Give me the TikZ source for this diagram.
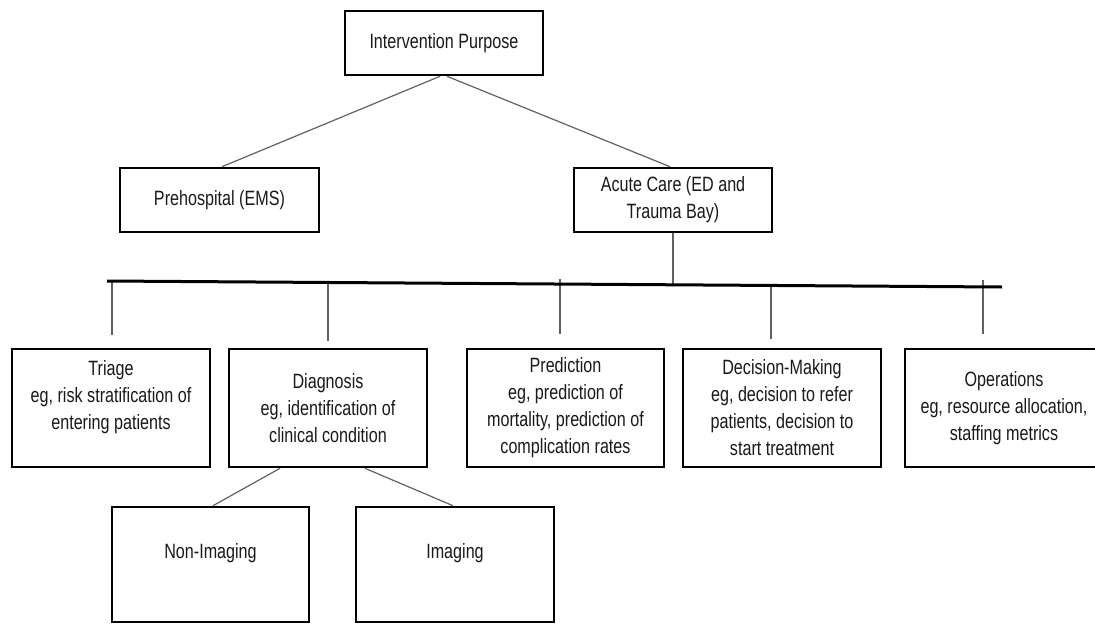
\documentclass[tikz,border=0pt]{standalone}
\usepackage{fontspec}
\setmainfont[FakeStretch=0.78]{Liberation Sans}
\begin{document}
\begin{tikzpicture}[x=1pt,y=-1pt,
  box/.style={draw=black, line width=2.6pt, align=center, inner sep=0pt,
    font=\fontsize{20.7}{27}\selectfont, text=black!90},
  link/.style={draw=black!62, line width=1.2pt},
  bar/.style={draw=black, line width=3pt}]
\useasboundingbox (0,0) rectangle (1095,624);
% level 1 and 2
\node[box, minimum width=198pt, minimum height=64pt] (top) at (444,43) {Intervention Purpose};
\node[box, minimum width=199pt, minimum height=64pt] (pre) at (219.5,200) {Prehospital (EMS)};
\node[box, minimum width=198pt, minimum height=64pt] (acute) at (673,200) {Acute Care (ED and\\Trauma Bay)};
% level 3
\node[box, minimum width=198pt, minimum height=118pt] (triage) at (111,408) {Triage\\eg, risk stratification of\\entering patients\\\mbox{}};
\node[box, minimum width=198pt, minimum height=118pt] (diag) at (328,408) {Diagnosis\\eg, identification of\\clinical condition};
\node[box, minimum width=197pt, minimum height=118pt] (pred) at (565.5,408) {Prediction\\eg, prediction of\\mortality, prediction of\\complication rates};
\node[box, minimum width=198pt, minimum height=118pt] (dec) at (782,408) {Decision-Making\\eg, decision to refer\\patients, decision to\\start treatment};
\node[box, minimum width=198pt, minimum height=118pt] (ops) at (1004,408) {Operations\\eg, resource allocation,\\staffing metrics};
% level 4
\node[box, minimum width=197pt, minimum height=115pt] (nonimg) at (210.5,564.5) {Non-Imaging\\\mbox{}};
\node[box, minimum width=198pt, minimum height=115pt] (img) at (455,564.5) {Imaging\\\mbox{}};
% bar and junction coordinates
\coordinate (barL) at (107,281);
\coordinate (barR) at (1002,287);
\coordinate (aj) at (673,285);
\coordinate (t1) at (112,281); \coordinate (b1) at (112,335);
\coordinate (t2) at (328,282); \coordinate (b2) at (328,341);
\coordinate (t3) at (560,279); \coordinate (b3) at (560,334);
\coordinate (t4) at (771,285); \coordinate (b4) at (771,339);
\coordinate (t5) at (983,280); \coordinate (b5) at (983,334);
% connectors
\draw[link] ([xshift=-4pt]top.south) -- ([xshift=2.5pt]pre.north);
\draw[link] ([xshift=3pt]top.south) -- ([xshift=-3pt]acute.north);
\draw[link] (acute.south) -- (aj);
\draw[link] (t1) -- (b1);
\draw[link] (t2) -- (b2);
\draw[link] (t3) -- (b3);
\draw[link] (t4) -- (b4);
\draw[link] (t5) -- (b5);
\draw[bar] (barL) -- (barR);
\draw[link] ([xshift=-48pt]diag.south) -- ([xshift=2.5pt]nonimg.north);
\draw[link] ([xshift=37pt]diag.south) -- ([xshift=-2pt]img.north);
\end{tikzpicture}
\end{document}
